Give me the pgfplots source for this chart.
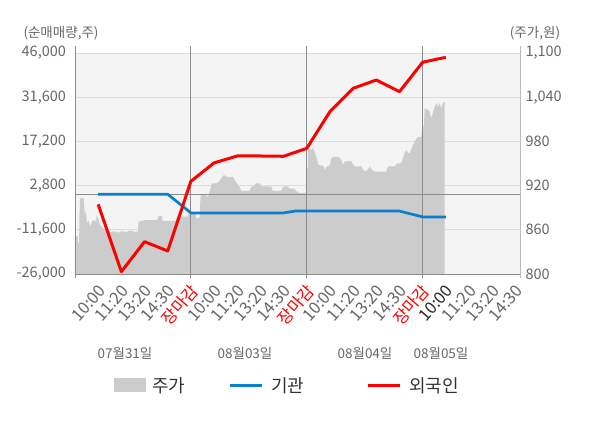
\documentclass[border=0pt]{standalone}
\usepackage{fontspec}
\setmainfont{Noto Sans CJK KR}
\usepackage{pgfplots}
\pgfplotsset{compat=1.18}
\definecolor{bgc}{HTML}{F4F4F4}
\definecolor{gridc}{HTML}{DCDCDC}
\definecolor{areac}{HTML}{CCCCCC}
\definecolor{divc}{HTML}{8C8C8C}
\definecolor{rlc}{HTML}{BBBBBB}
\definecolor{txtc}{HTML}{666666}
\definecolor{bluec}{HTML}{0A80CC}
\definecolor{redc}{HTML}{FF0000}
\begin{document}
\begin{tikzpicture}[font=\fontsize{13.5}{15}\selectfont]
\useasboundingbox (-75pt,-154pt) rectangle (525pt,274pt);
% ---- price axis (right) ----
\begin{axis}[at={(0,0)}, anchor=south west, scale only axis,
  width=445pt, height=221pt, xmin=0, xmax=19.2, ymin=800, ymax=1100,
  axis x line=none, axis y line*=right, y axis line style={draw=none},
  ytick={800,860,920,980,1040,1100}, ymajorgrids,
  grid style={gridc, line width=0.8pt}, major tick length=0,
  axis background/.style={fill=bgc},
  yticklabel style={txtc, anchor=west, xshift=2pt, font=\fontsize{14.5}{16}\selectfont},
  /pgf/number format/1000 sep={,}, /pgf/number format/assume math mode=true]
\addplot[fill=areac, draw=none] coordinates {
(0,800) (0,851) (0.12,851) (0.13,842) (0.18,842) (0.19,880) (0.23,903) (0.37,903) (0.42,882) (0.47,884) (0.52,869) (0.59,872) (0.66,864) (0.73,871) (0.8,873) (0.88,871) (0.95,880) (1.02,873) (1.09,866) (1.17,864) (1.24,860) (1.38,862) (1.52,857) (1.7,858) (1.85,856) (2.0,858) (2.2,857) (2.4,859) (2.6,857) (2.72,858) (2.74,871) (3.0,873) (3.3,873) (3.55,873) (3.6,879) (3.75,879) (3.78,872) (4.35,872) (4.4,878) (4.85,878) (4.9,882) (5.0,882)
(5.0,883) (5.2,883) (5.23,876) (5.37,876) (5.42,907) (5.6,908) (5.7,906) (5.73,904) (5.85,916) (5.9,923) (6.09,923) (6.2,925) (6.31,930) (6.4,934) (6.45,934) (6.55,932) (6.81,932) (6.9,927) (7.03,921) (7.1,918) (7.17,913) (7.53,913) (7.6,918) (7.74,920) (7.8,923) (7.96,923) (8.05,919) (8.46,919) (8.53,913) (8.89,913) (8.95,916) (9.0,919) (9.18,919) (9.25,916) (9.47,916) (9.55,912) (9.61,912) (9.65,910) (9.97,910)
(10.0,944) (10.05,944) (10.06,971) (10.2,968) (10.25,972) (10.34,966) (10.42,959) (10.5,948) (10.56,948) (10.65,946) (10.7,948) (10.78,941) (10.85,946) (10.92,946) (10.99,948) (11.06,957) (11.15,959) (11.35,959) (11.45,957) (11.5,954) (11.57,948) (11.65,953) (11.93,953) (12.0,948) (12.07,946) (12.36,946) (12.45,941) (12.57,939) (12.72,946) (12.82,941) (12.93,939) (13.43,939) (13.51,946) (13.79,946) (13.9,950) (14.01,950) (14.1,952) (14.22,964) (14.29,968) (14.38,964) (14.44,964) (14.58,975) (14.73,984) (14.8,986) (14.94,986)
(14.98,1000) (15.05,1000) (15.09,1025) (15.2,1023) (15.23,1023) (15.3,1020) (15.37,1011) (15.45,1020) (15.52,1027) (15.59,1032) (15.66,1027) (15.73,1032) (15.8,1025) (15.87,1032) (15.95,1034) (15.95,800)
};
\end{axis}
% ---- volume axis (left) ----
\begin{axis}[at={(0,0)}, anchor=south west, scale only axis,
  width=445pt, height=221pt, xmin=0, xmax=19.2, ymin=-26000, ymax=46000,
  axis y line*=left, axis x line*=bottom, axis line style={draw=none},
  clip=false, major tick length=0, scaled y ticks=false,
  ytick={-26000,-11600,2800,17200,31600,46000},
  yticklabel style={txtc, anchor=east, xshift=-5.5pt, font=\fontsize{14.5}{16}\selectfont},
  xtick={1,...,19},
  xticklabels={10:00,11:20,13:20,14:30,\textcolor{red}{장마감},10:00,11:20,13:20,14:30,\textcolor{red}{장마감},10:00,11:20,13:20,14:30,\textcolor{red}{장마감},\textcolor{black!85}{10:00},11:20,13:20,14:30},
  xticklabel style={txtc, xshift=5pt, yshift=-12pt, rotate=49, anchor=east, inner sep=2pt, font=\fontsize{16.5}{18}\selectfont},
  /pgf/number format/1000 sep={,}, /pgf/number format/assume math mode=true]
\draw[divc, line width=0.8pt] (axis cs:0,-26000) -- (axis cs:19.2,-26000);
\draw[divc, line width=0.8pt] ([yshift=-4pt]axis cs:0,-26000) -- ([yshift=7pt]axis cs:0,46000);
\draw[divc, line width=0.8pt] ([yshift=-4pt]axis cs:5,-26000) -- ([yshift=7pt]axis cs:5,46000);
\draw[divc, line width=0.8pt] ([yshift=-4pt]axis cs:10,-26000) -- ([yshift=7pt]axis cs:10,46000);
\draw[divc, line width=0.8pt] ([yshift=-4pt]axis cs:15,-26000) -- ([yshift=7pt]axis cs:15,46000);
\draw[rlc, line width=0.8pt] ([yshift=-4pt]axis cs:19.2,-26000) -- ([yshift=7pt]axis cs:19.2,46000);
\draw[divc, line width=0.8pt] (axis cs:0,0) -- (axis cs:19.2,0);
\addplot[bluec, line width=2.7pt, line join=round] coordinates {
(1,0) (2,0) (3,0) (4,0) (5,-6100) (6,-6100) (7,-6100) (8,-6100) (9,-6100) (9.5,-5500) (10,-5500) (11,-5500) (12,-5500) (13,-5500) (14,-5500) (15,-7400) (16,-7400)
};
\addplot[redc, line width=3pt, line join=round] coordinates {
(1,-3300) (2,-25250) (3,-15470) (4,-18500) (5,4200) (6,10200) (7,12450) (8,12450) (9,12350) (10,14950) (11,26900) (12,34500) (13,37200) (14,33400) (15,43000) (16,44600)
};
\end{axis}
% ---- titles ----
\node[txtc] at (-14pt,241pt) {(순매매량,주)};
\node[txtc] at (460pt,241pt) {(주가,원)};
% ---- date labels ----
\node[txtc] at (50pt,-79pt) {07월31일};
\node[txtc] at (170pt,-79pt) {08월03일};
\node[txtc] at (290pt,-79pt) {08월04일};
\node[txtc] at (366pt,-79pt) {08월05일};
% ---- legend ----
\fill[areac] (39pt,-104.5pt) rectangle (71pt,-118.5pt);
\node[anchor=west, inner sep=0pt, black!80, font=\fontsize{18}{20}\selectfont] at (77pt,-111.5pt) {주가};
\draw[bluec, line width=3pt] (155pt,-111.5pt) -- (187pt,-111.5pt);
\node[anchor=west, inner sep=0pt, black!80, font=\fontsize{18}{20}\selectfont] at (196pt,-111.5pt) {기관};
\draw[redc, line width=3pt] (293pt,-111.5pt) -- (325pt,-111.5pt);
\node[anchor=west, inner sep=0pt, black!80, font=\fontsize{18}{20}\selectfont] at (334pt,-111.5pt) {외국인};
\end{tikzpicture}
\end{document}
